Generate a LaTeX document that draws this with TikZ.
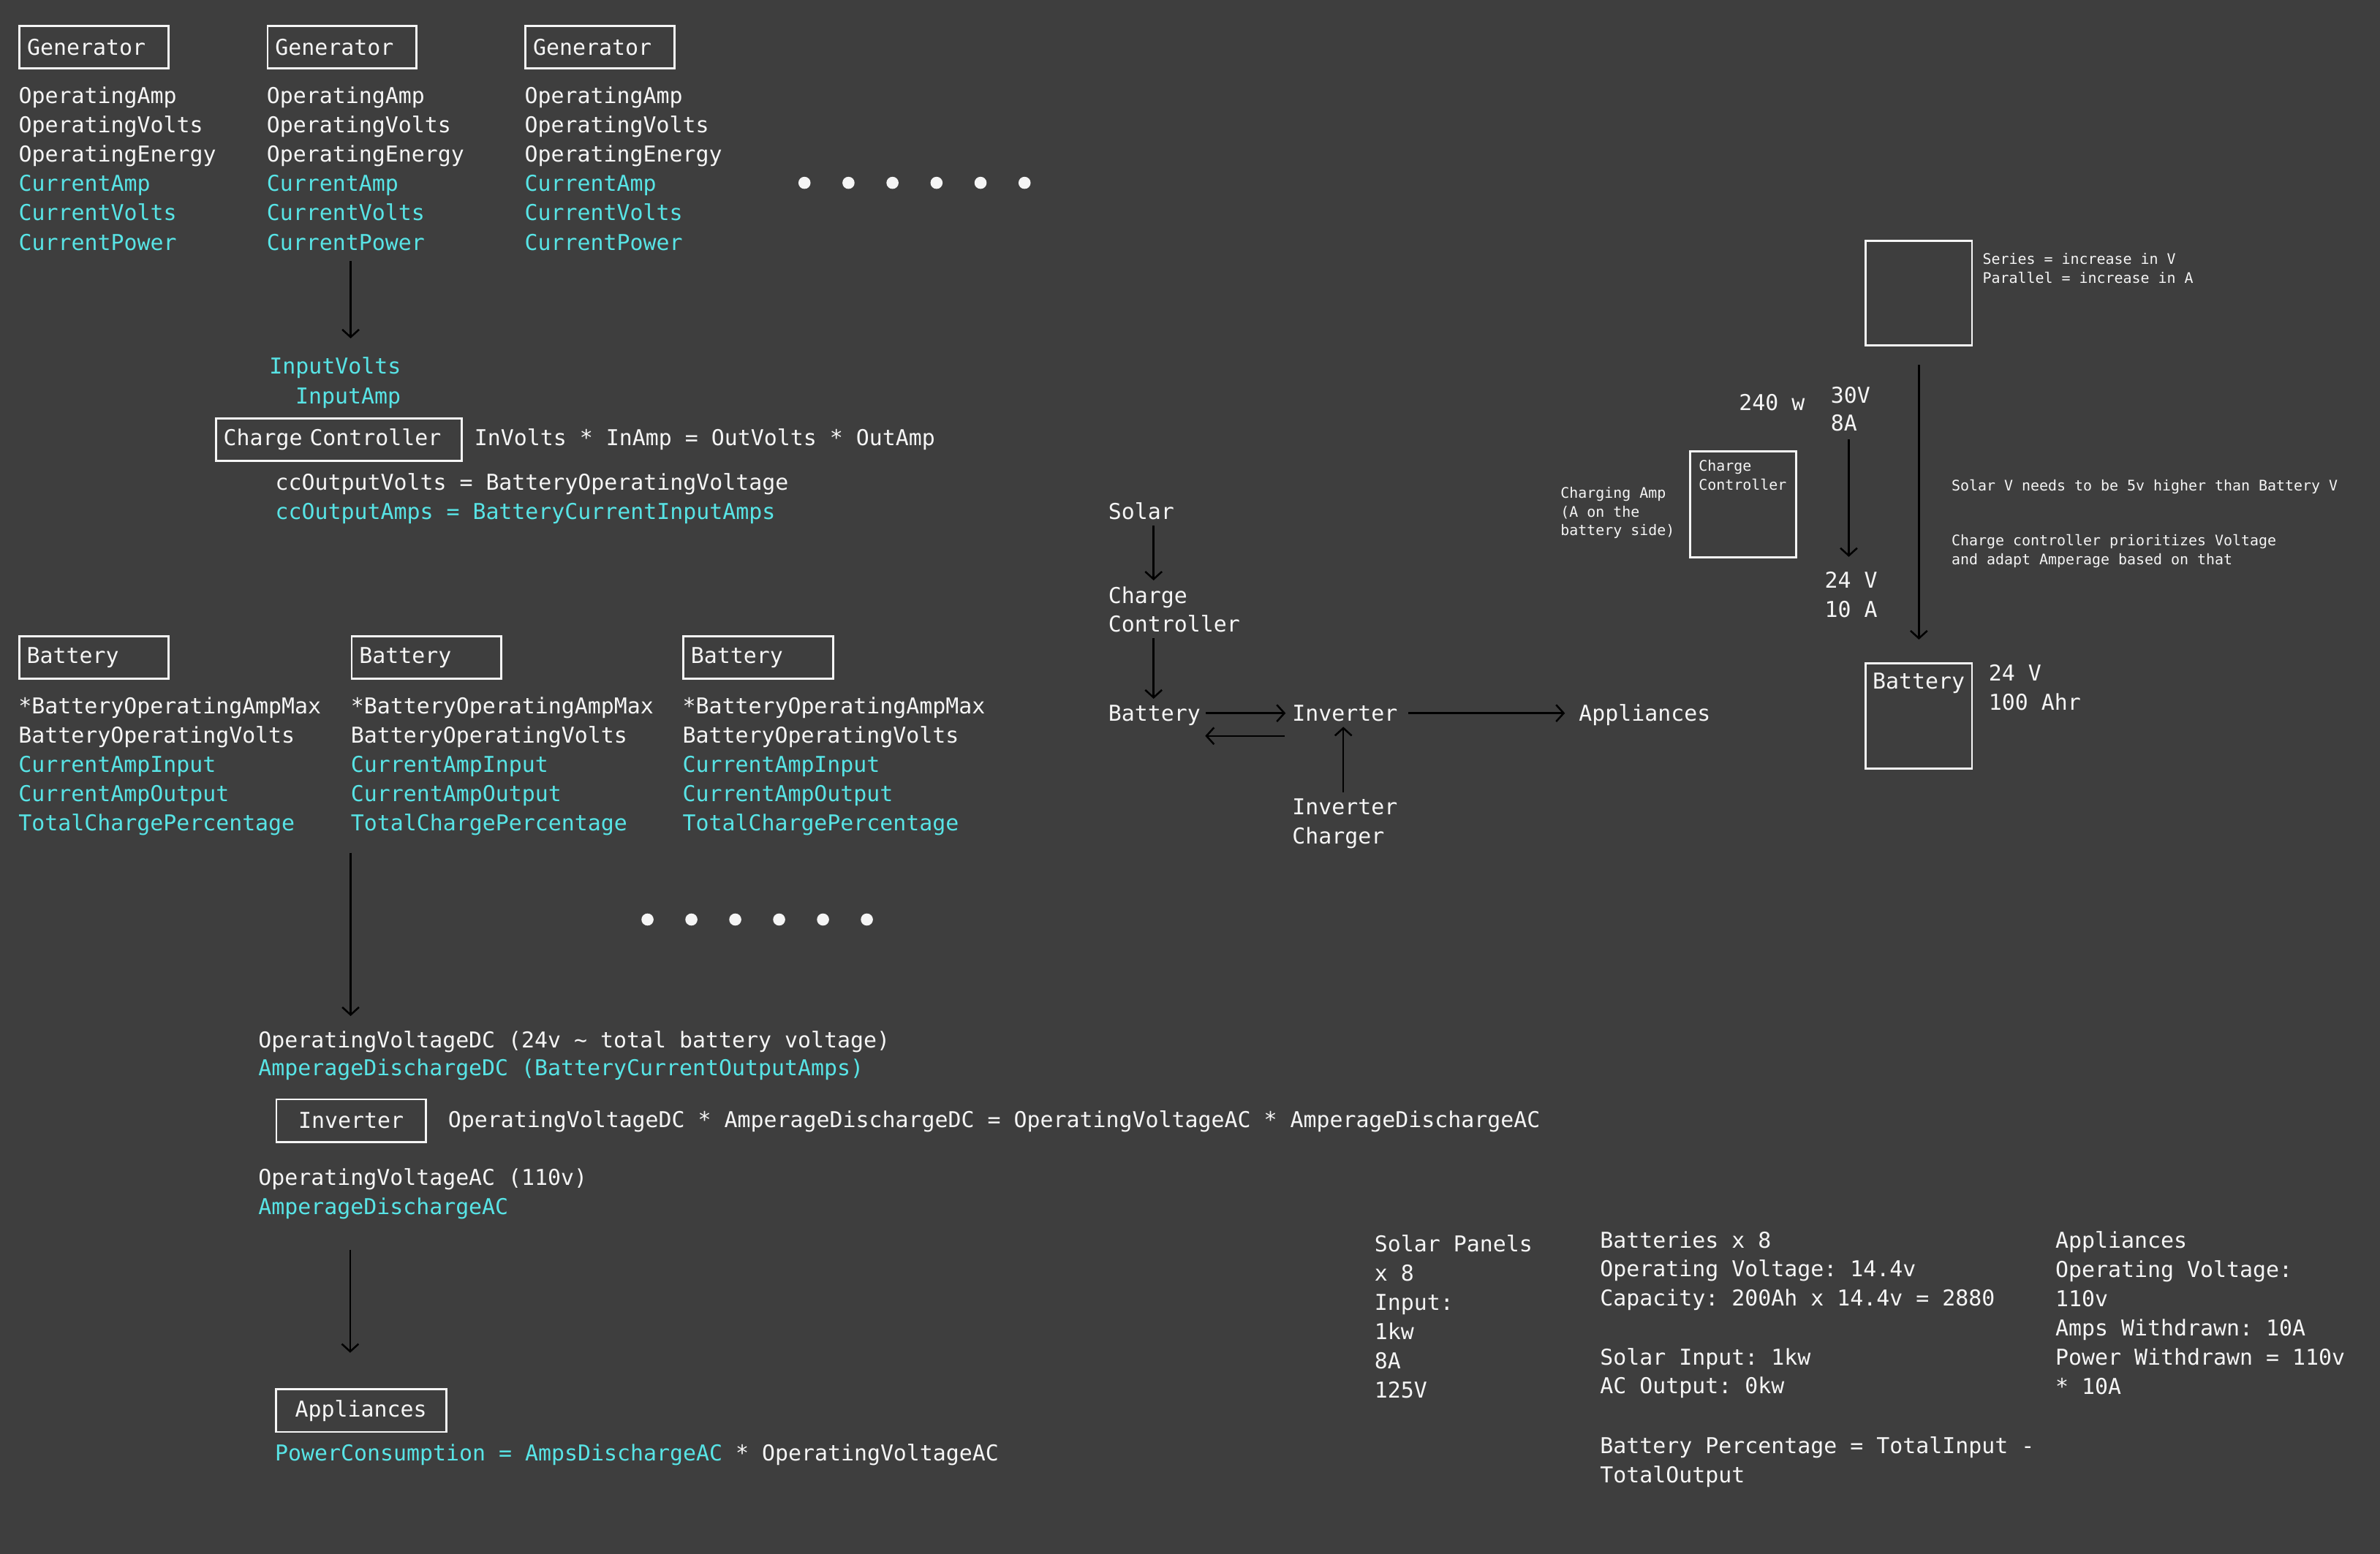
\documentclass[tikz,border=0pt]{standalone}
\usepackage{fontspec}
\usetikzlibrary{arrows.meta}
\newfontfamily\monof[WordSpace={1,0,0},PunctuationSpace=WordSpace]{DejaVu Sans Mono}
\newcommand\bigf{\monof\frenchspacing\fontsize{14.4}{19.25}\selectfont}
\newcommand\smallf{\monof\frenchspacing\fontsize{9.6}{12.5}\selectfont}
\definecolor{bg}{RGB}{62,62,62}
\definecolor{fg}{RGB}{245,245,245}
\definecolor{cy}{RGB}{88,228,230}
\begin{document}
\begin{tikzpicture}[x=1pt,y=-1pt,
  tw/.style={anchor=base west,inner sep=0pt,font=\bigf,text=fg},
  tc/.style={tw,text=cy},
  ts/.style={anchor=base west,inner sep=0pt,font=\smallf,text=fg},
  bx/.style={draw=fg,line width=1.4pt,text=fg,font=\bigf,anchor=north west,
    inner xsep=5pt,inner ysep=0pt,minimum height=28pt,align=left},
  bxc/.style={bx,align=center},
  eb/.style={draw=fg,line width=1.4pt,anchor=north west,inner sep=0pt,
    minimum width=70pt,minimum height=69pt},
  arr/.style={draw=black,line width=1.2pt,-{Straight Barb[length=5pt,width=11pt]}}]
\fill[bg] (0,0) rectangle (1568,1024);
\useasboundingbox (0,0) rectangle (1568,1024);

% ---------- Generators ----------
\foreach \c/\x in {1/12.2,2/175.6,3/345.5}{
  \node[bx,text width=88pt] (gen\c) at (\x,16.5) {Generator};
  \foreach \t [count=\i from 0] in {OperatingAmp,OperatingVolts,OperatingEnergy}
    \node[tw] (gen\c-w\i) at (\x,68.4+19.27*\i) {\t};
  \foreach \t [count=\i from 3] in {CurrentAmp,CurrentVolts,CurrentPower}
    \node[tc] (gen\c-c\i) at (\x,68.4+19.27*\i) {\t};
}
\foreach \i in {0,...,5} \fill[fg] (530+29*\i,120.5) circle[radius=4pt];

% ---------- Charge controller ----------
\coordinate (a1s) at (231,172);
\coordinate (a1e) at (231,223);
\draw[arr] (a1s) -- (a1e);
\node[tc] (inv) at (177.3,246.6) {InputVolts};
\node[tc] (ina) at (194.5,266) {InputAmp};
\node[bx,text width=152pt] (cc) at (141.5,275) {Charge Controller};
\node[tw] (ccf) at (312.4,293.6) {InVolts * InAmp = OutVolts * OutAmp};
\node[tw] (ccov) at (181.2,323) {ccOutputVolts = BatteryOperatingVoltage};
\node[tc] (ccoa) at (181.2,342.2) {ccOutputAmps = BatteryCurrentInputAmps};

% ---------- Batteries ----------
\foreach \c/\x in {1/12,2/231,3/449.5}{
  \node[bx,text width=88.5pt] (bat\c) at (\x,418.7) {Battery};
  \node[tw] (bat\c-w0) at (\x,470.6) {*BatteryOperatingAmpMax};
  \node[tw] (bat\c-w1) at (\x,489.9) {BatteryOperatingVolts};
  \foreach \t [count=\i from 2] in {CurrentAmpInput,CurrentAmpOutput,TotalChargePercentage}
    \node[tc] (bat\c-c\i) at (\x,470.6+19.27*\i) {\t};
}
\foreach \i in {0,...,5} \fill[fg] (426.6+28.9*\i,606) circle[radius=4pt];

% ---------- Inverter ----------
\coordinate (a2s) at (231,562);
\coordinate (a2e) at (231,669.6);
\draw[arr] (a2s) -- (a2e);
\node[tw] (ovdc) at (170,690.3) {OperatingVoltageDC (24v \textasciitilde{} total battery voltage)};
\node[tc] (addc) at (170,709) {AmperageDischargeDC (BatteryCurrentOutputAmps)};
\node[bxc,text width=88.4pt] (invb) at (181.4,723.8) {Inverter};
\node[tw] (invf) at (295,743) {OperatingVoltageDC * AmperageDischargeDC = OperatingVoltageAC * AmperageDischargeAC};
\node[tw] (ovac) at (170,780.9) {OperatingVoltageAC (110v)};
\node[tc] (adac) at (170,800.6) {AmperageDischargeAC};

% ---------- Appliances ----------
\coordinate (a3s) at (230.7,823.7);
\coordinate (a3e) at (230.7,891.5);
\draw[arr] (a3s) -- (a3e);
\node[bxc,text width=102.2pt] (appb) at (181,915) {Appliances};
\node[tw] (pc) at (181,962.8) {{\color{cy}PowerConsumption = AmpsDischargeAC} * OperatingVoltageAC};

% ---------- Middle flow ----------
\node[tw] (fsolar) at (730,342.5) {Solar};
\node[tw] (fcc1) at (730,397.6) {Charge};
\node[tw] (fcc2) at (730,416.5) {Controller};
\node[tw] (fbat) at (730,475.3) {Battery};
\node[tw] (finv) at (851.2,475.3) {Inverter};
\node[tw] (fapp) at (1040,475.3) {Appliances};
\node[tw] (fic1) at (851.2,537) {Inverter};
\node[tw] (fic2) at (851.2,556.2) {Charger};
\coordinate (m1s) at (760,346.5);  \coordinate (m1e) at (760,382.5);
\coordinate (m2s) at (760,420.5);  \coordinate (m2e) at (760,460.5);
\coordinate (m3s) at (794.5,470);  \coordinate (m3e) at (847,470);
\coordinate (m4s) at (846.5,485);  \coordinate (m4e) at (794,485);
\coordinate (m5s) at (885,522.3);  \coordinate (m5e) at (885,479);
\coordinate (m6s) at (928,470);    \coordinate (m6e) at (1031,470);
\draw[arr] (m1s) -- (m1e);
\draw[arr] (m2s) -- (m2e);
\draw[arr] (m3s) -- (m3e);
\draw[arr] (m4s) -- (m4e);
\draw[arr] (m5s) -- (m5e);
\draw[arr] (m6s) -- (m6e);

% ---------- Right side ----------
\node[eb] (panel) at (1228.5,158) {};
\node[ts] (ser) at (1306,174.2) {Series = increase in V};
\node[ts] (par) at (1306,186.7) {Parallel = increase in A};
\node[tw] (w240) at (1145.5,270.7) {240 w};
\node[tw] (v30) at (1206,265.6) {30V};
\node[tw] (a8) at (1206,284) {8A};
\coordinate (r1s) at (1218,289.6);
\coordinate (r1e) at (1218,367);
\draw[arr] (r1s) -- (r1e);
\node[tw] (v24) at (1202,387.5) {24 V};
\node[tw] (a10) at (1202,406.8) {10 A};
\node[eb,minimum height=70pt] (ccbox) at (1112.7,296.7) {};
\node[ts] (ccb1) at (1119,310.7) {Charge};
\node[ts] (ccb2) at (1119,323.2) {Controller};
\node[ts] (chg1) at (1028,328.4) {Charging Amp};
\node[ts] (chg2) at (1028,340.6) {(A on the};
\node[ts] (chg3) at (1028,352.9) {battery side)};
\node[ts] (sv) at (1285.6,323.4) {Solar V needs to be 5v higher than Battery V};
\node[ts] (cp1) at (1285.6,359.4) {Charge controller prioritizes Voltage};
\node[ts] (cp2) at (1285.6,371.9) {and adapt Amperage based on that};
\node[eb,minimum height=69.5pt] (rbat) at (1228.5,436.5) {};
\draw[arr,shorten <=12pt,shorten >=15pt] (panel.south) -- (rbat.north);
\node[tw] (rbatt) at (1233.5,454) {Battery};
\node[tw] (rv) at (1310,448.6) {24 V};
\node[tw] (rah) at (1310,468) {100 Ahr};

% ---------- Bottom right ----------
\foreach \t [count=\i from 0] in {Solar Panels,x 8,Input:,1kw,8A,125V}
  \node[tw] (sp\i) at (905.4,824.7+19.27*\i) {\t};
\node[tw] (bx0) at (1054,822.3) {Batteries x 8};
\node[tw] (bx1) at (1054,841.5) {Operating Voltage: 14.4v};
\node[tw] (bx2) at (1054,860.8) {Capacity: 200Ah x 14.4v = 2880};
\node[tw] (bx3) at (1054,899.4) {Solar Input: 1kw};
\node[tw] (bx4) at (1054,918.6) {AC Output: 0kw};
\node[tw] (bx5) at (1054,957.8) {Battery Percentage = TotalInput -};
\node[tw] (bx6) at (1054,977) {TotalOutput};
\foreach \t [count=\i from 0] in {Appliances,Operating Voltage:,110v,Amps Withdrawn: 10A,Power Withdrawn = 110v,* 10A}
  \node[tw] (ap\i) at (1354,822.3+19.27*\i) {\t};
\end{tikzpicture}
\end{document}
